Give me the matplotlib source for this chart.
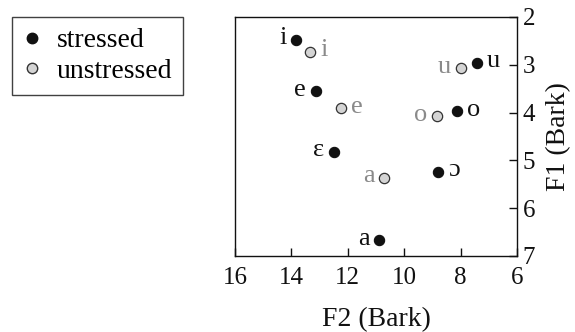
import matplotlib
matplotlib.use('Agg')
from matplotlib import pyplot as plt
from matplotlib.lines import Line2D

plt.rcParams['font.family'] = ['Liberation Serif', 'DejaVu Serif']

# stressed vowels (F2, F1) in Bark
stressed_labels = ['i', 'e', 'ɛ', 'a', 'ɔ', 'o', 'u']
stressed_f2 = [13.83, 13.13, 12.48, 10.88, 8.80, 8.11, 7.42]
stressed_f1 = [2.48, 3.55, 4.82, 6.67, 5.24, 3.97, 2.96]
stressed_side = ['left', 'left', 'left', 'left', 'right', 'right', 'right']

# unstressed vowels
unstressed_labels = ['i', 'e', 'a', 'o', 'u']
unstressed_f2 = [13.33, 12.24, 10.70, 8.82, 7.99]
unstressed_f1 = [2.73, 3.91, 5.36, 4.07, 3.07]
unstressed_side = ['right', 'right', 'left', 'left', 'left']

fig = plt.figure(figsize=(5.75, 3.32), dpi=100)
ax = fig.add_axes([0.4087, 0.229, 0.4904, 0.72])

ax.scatter(stressed_f2, stressed_f1, s=55, c='#111111', edgecolors='#111111', linewidths=0.8, zorder=3)
ax.scatter(unstressed_f2, unstressed_f1, s=55, c='#d4d4d4', edgecolors='#333333', linewidths=0.9, zorder=3)

def put_labels(labels, xs, ys, sides, color):
    for lab, x, y, side in zip(labels, xs, ys, sides):
        if side == 'left':
            off, ha = (-7, 1), 'right'
        else:
            off, ha = (7, 1), 'left'
        ax.annotate(lab, (x, y), xytext=off, textcoords='offset points',
                    ha=ha, va='center', fontsize=19, color=color)

put_labels(stressed_labels, stressed_f2, stressed_f1, stressed_side, '#111111')
put_labels(unstressed_labels, unstressed_f2, unstressed_f1, unstressed_side, '#8a8a8a')

ax.set_xlim(16, 6)
ax.set_ylim(7, 2)
ax.set_xticks([16, 14, 12, 10, 8, 6])
ax.set_yticks([2, 3, 4, 5, 6, 7])
ax.yaxis.tick_right()
ax.yaxis.set_label_position('right')
ax.tick_params(axis='both', direction='in', length=6, width=1, labelsize=18, colors='#111111')
ax.tick_params(axis='x', pad=8)
ax.tick_params(axis='y', pad=4)
for sp in ax.spines.values():
    sp.set_linewidth(1)
    sp.set_color('#111111')

ax.set_xlabel('F2 (Bark)', fontsize=20, labelpad=13, color='#111111')
ax.set_ylabel('F1 (Bark)', fontsize=20, labelpad=8, color='#111111')

handles = [
    Line2D([], [], marker='o', linestyle='', markersize=7.5, markerfacecolor='#111111',
           markeredgecolor='#111111', label='stressed'),
    Line2D([], [], marker='o', linestyle='', markersize=7.5, markerfacecolor='#d4d4d4',
           markeredgecolor='#333333', label='unstressed'),
]
leg = fig.legend(handles=handles, loc='upper left', bbox_to_anchor=(0.021, 0.949),
                 fontsize=20, frameon=True, fancybox=False, handlelength=0.6,
                 handletextpad=0.6, borderpad=0.4, labelspacing=0.18, borderaxespad=0)
leg.get_frame().set_edgecolor('#111111')
leg.get_frame().set_linewidth(1)

fig.savefig('out.png', dpi=100)
